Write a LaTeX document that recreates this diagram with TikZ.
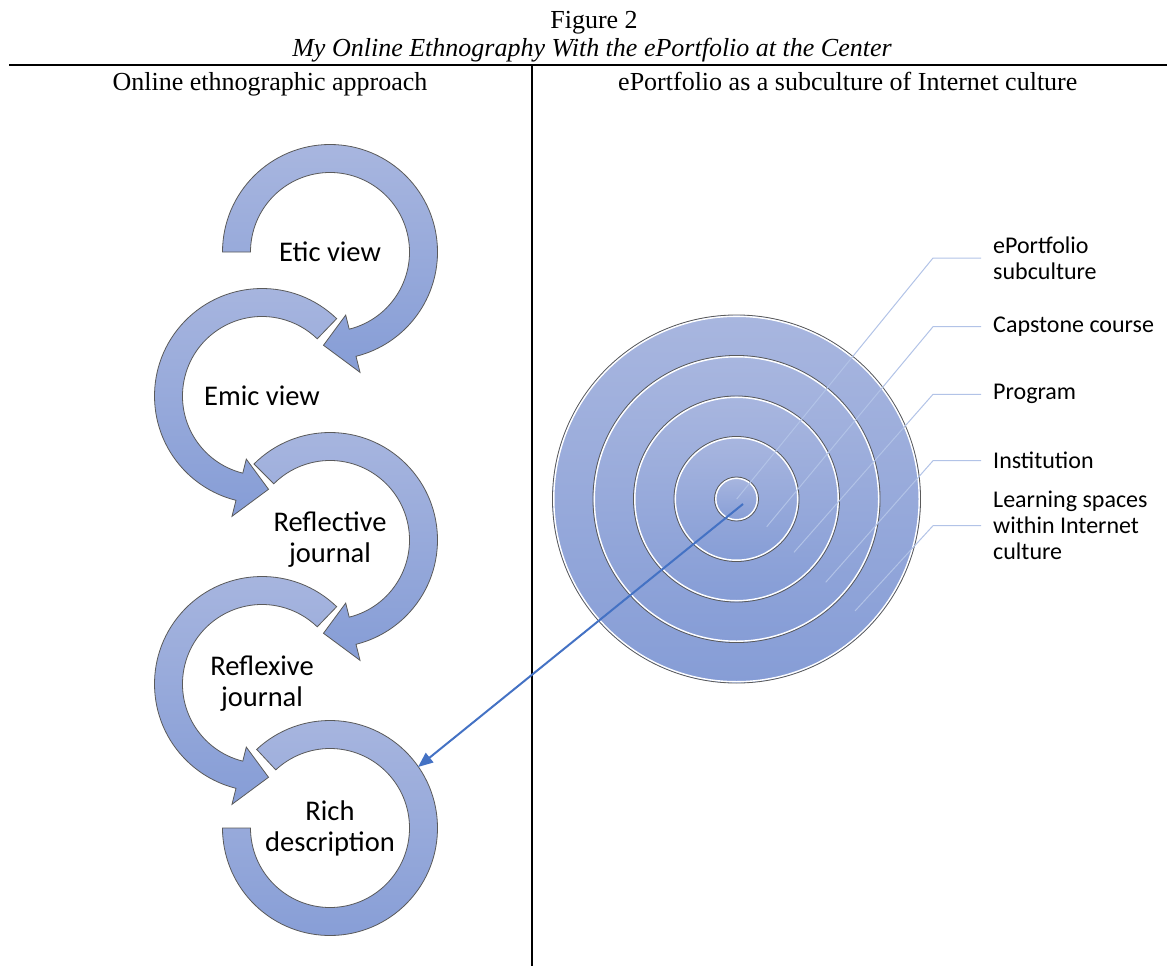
\documentclass[tikz,border=0pt]{standalone}
\usepackage{fontspec}
\setmainfont{Liberation Serif}
\newfontfamily\carlito{Carlito}
\usetikzlibrary{arrows.meta}

\definecolor{ringtop}{RGB}{168,182,223}
\definecolor{ringbot}{RGB}{134,157,214}
\definecolor{ringline}{RGB}{90,90,90}
\definecolor{leadcol}{RGB}{178,195,231}
\definecolor{pointcol}{RGB}{68,114,196}

% centre, tail angle, base angle of head, tip angle
\newcommand{\cyclearrow}[4]{%
  \begin{scope}[shift={#1}]
    \path[ringfill] (#2:107.5) arc[start angle=#2, end angle=#3, radius=107.5]
      -- (#3:124) -- (#4:93.5) -- (#3:65) -- (#3:79.5)
      arc[start angle=#3, end angle=#2, radius=79.5] -- cycle;
  \end{scope}}

\begin{document}
\begin{tikzpicture}[x=1pt,y=1pt,
  ringfill/.style={top color=ringtop, bottom color=ringbot, draw=ringline, line width=0.8pt},
  stage/.style={align=center, font=\carlito\fontsize{28.5}{31}\selectfont},
  lbl/.style={anchor=west, align=left, inner xsep=12pt, inner ysep=0pt, font=\carlito\fontsize{24}{26}\selectfont},
  head/.style={anchor=base, inner sep=0pt, font=\fontsize{26}{28}\selectfont},
  leader/.style={leadcol, line width=1pt},
  pointer/.style={pointcol, line width=2pt, -{Triangle[length=15pt,width=12pt]}}]
  \useasboundingbox (0,0) rectangle (1167,-966);

  \node[head] (fig) at (594,-29) {Figure 2};
  \node[head] (title) at (592,-57) {\itshape My Online Ethnography With the ePortfolio at the Center};
  \draw[line width=2pt] (9,-65) -- (1167,-65);
  \draw[line width=1.4pt] (532,-65) -- (532,-966);
  \node[head] (lefthead) at (270,-90) {Online ethnographic approach};
  \node[head, anchor=base west] (righthead) at (618,-90) {ePortfolio as a subculture of Internet culture};

  \cyclearrow{(330,-252)}{180}{-76}{-94}
  \cyclearrow{(262,-396)}{46}{256}{274}
  \cyclearrow{(330,-540)}{135}{-76}{-94}
  \cyclearrow{(262,-684)}{46}{256}{274}
  \begin{scope}[shift={(330,-828)}]
    \path[ringfill] (133:107.5) arc[start angle=133, end angle=-180, radius=107.5]
      -- (-180:79.5) arc[start angle=-180, end angle=133, radius=79.5] -- cycle;
  \end{scope}

  \node[stage] (etic) at (330,-252) {Etic view};
  \node[stage] (emic) at (262,-396) {Emic view};
  \node[stage] (reflective) at (330,-540) {Reflective\\journal};
  \node[stage] (reflexive) at (262,-684) {Reflexive\\journal};
  \node[stage] (rich) at (330,-828) {Rich\\description};

  \coordinate (core) at (736.5,-499);
  \foreach \r in {184,143.5,103,62.5,22} {
    \path[top color=ringtop, bottom color=ringbot] (core) circle[radius=\r];
    \draw[ringline, line width=0.9pt] (core) circle[radius=\r];
    \draw[white, line width=1.4pt] (core) circle[radius=\r-1.3];
  }

  \node[lbl] (port) at (981,-258) {ePortfolio\\subculture};
  \node[lbl] (cap) at (981,-326.7) {Capstone course};
  \node[lbl] (prog) at (981,-394.3) {Program};
  \node[lbl] (inst) at (981,-460.7) {Institution};
  \node[lbl] (space) at (981,-525.7) {Learning spaces\\within Internet\\culture};

  \draw[leader] (736.7,-499) -- (933,-258) -- (port.west);
  \draw[leader] (766.7,-526.7) -- (933,-326.7) -- (cap.west);
  \draw[leader] (794,-552.3) -- (933,-394.3) -- (prog.west);
  \draw[leader] (825.7,-582.3) -- (933,-460.7) -- (inst.west);
  \draw[leader] (855,-611) -- (933,-525.7) -- (space.west);

  \coordinate (pstart) at (743,-504);
  \coordinate (pend) at (418,-767);
  \draw[pointer] (pstart) -- (pend);
\end{tikzpicture}
\end{document}
